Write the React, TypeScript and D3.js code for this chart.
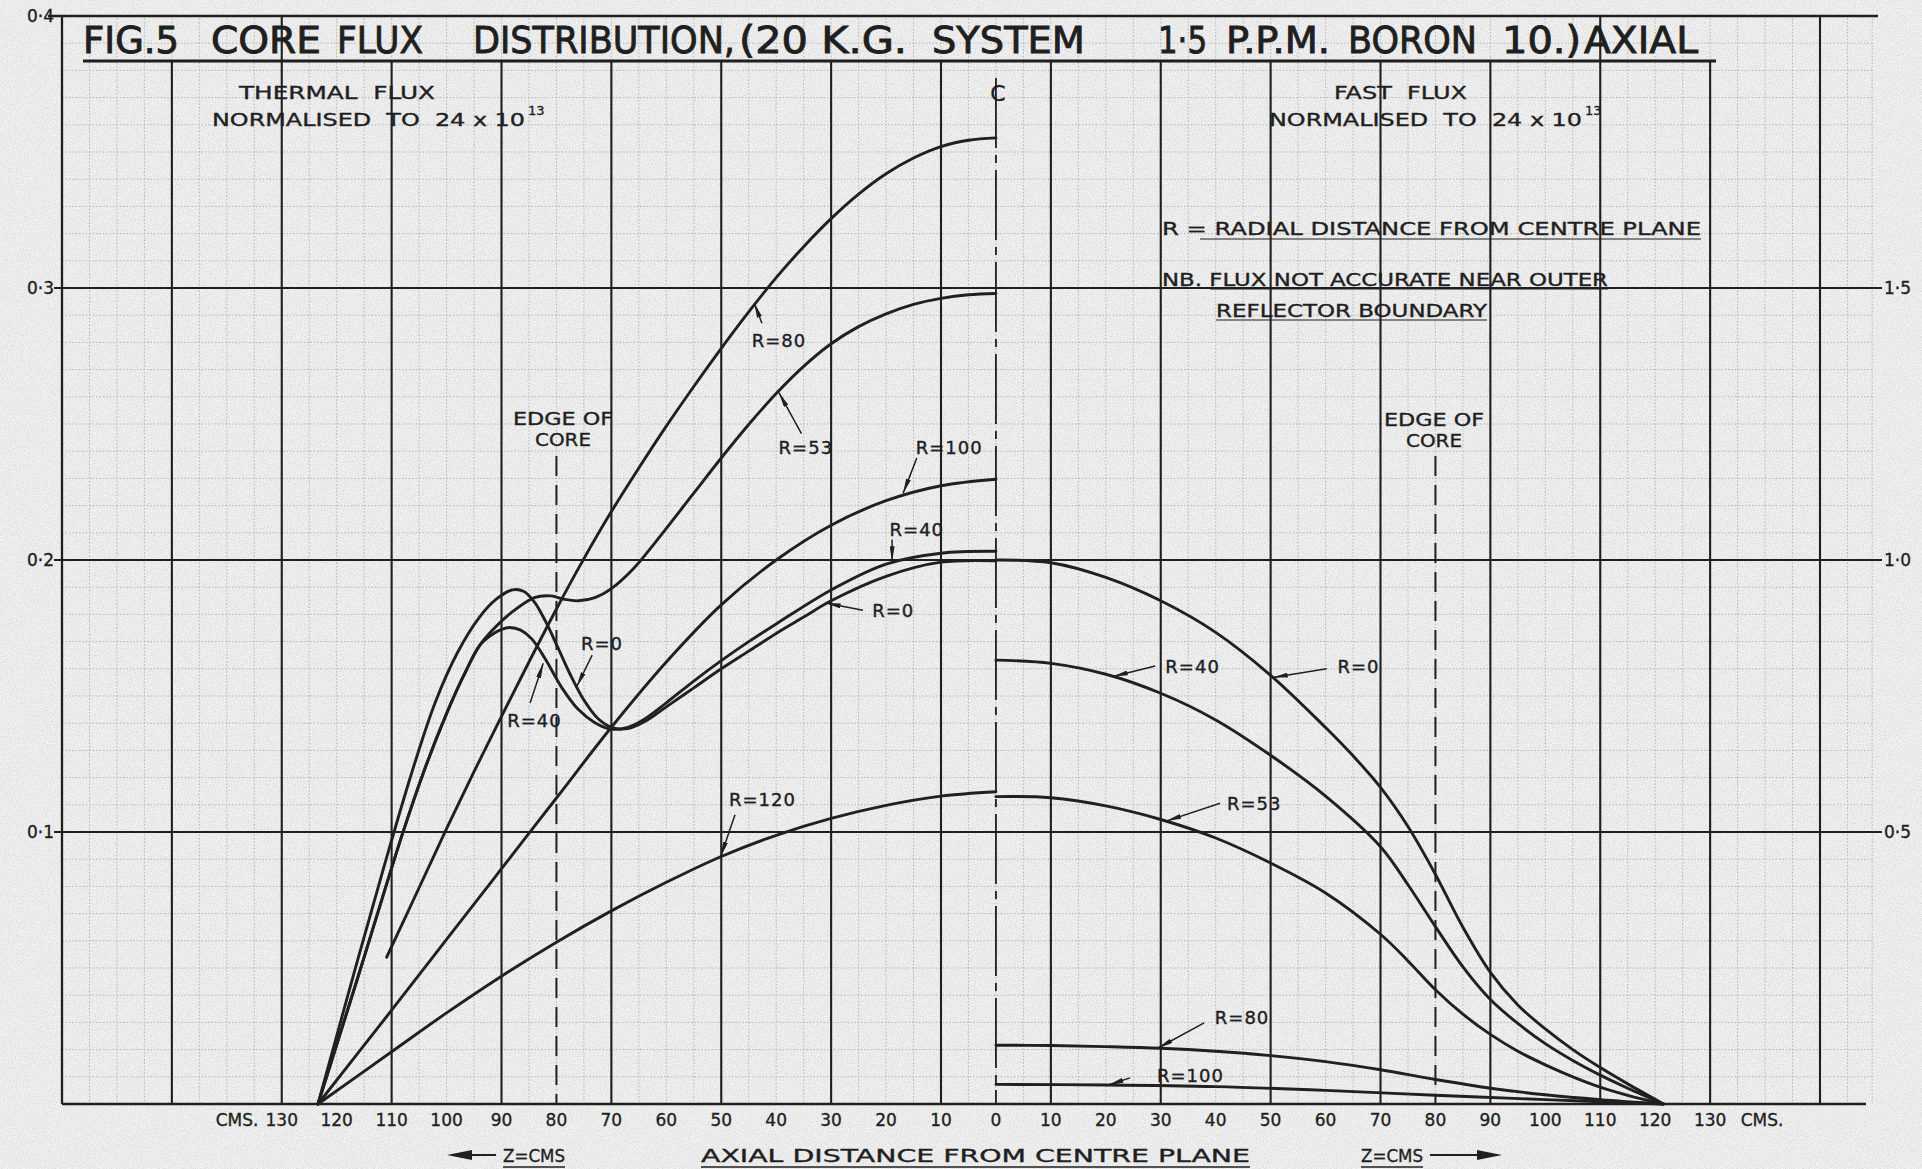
import React, { useEffect } from 'react';
import * as d3 from 'd3';

type Pt = [number, number];

// thermal flux, left axis; z in cm (negative = left of centre plane)
const thermalR0: Pt[] = [[-123.4, 0], [-117, 0.047], [-111, 0.09], [-106, 0.124], [-102, 0.148], [-98, 0.166], [-94, 0.179], [-91, 0.1855], [-88, 0.189], [-86, 0.1885], [-84, 0.1845], [-82, 0.1775], [-80, 0.169], [-77.5, 0.158], [-75, 0.1485], [-72.5, 0.1418], [-70, 0.1385], [-67, 0.138], [-64, 0.1405], [-60, 0.146], [-55, 0.153], [-50, 0.16], [-45, 0.1665], [-40, 0.173], [-35, 0.179], [-30, 0.185], [-20, 0.194], [-10, 0.1992], [0, 0.1997]];
const thermalR40: Pt[] = [[-123.4, 0], [-116, 0.0475], [-108, 0.0995], [-104, 0.123], [-100, 0.1435], [-97, 0.157], [-94, 0.1685], [-92, 0.1722], [-90, 0.1745], [-88.5, 0.1752], [-86.5, 0.1742], [-84.5, 0.171], [-82, 0.1635], [-79, 0.153], [-76, 0.145], [-73, 0.1402], [-70, 0.1378], [-67, 0.1385], [-64, 0.1415], [-60, 0.1475], [-55, 0.1555], [-50, 0.163], [-45, 0.17], [-40, 0.1765], [-30, 0.189], [-20, 0.1985], [-10, 0.2025], [0, 0.2032]];
const thermalR53: Pt[] = [[-123.4, 0], [-116, 0.0475], [-108, 0.0995], [-104, 0.123], [-100, 0.1435], [-97, 0.157], [-94, 0.1685], [-91.5, 0.1745], [-88, 0.181], [-84, 0.1862], [-81, 0.1868], [-78.5, 0.1855], [-76, 0.185], [-73, 0.1862], [-70, 0.1895], [-66, 0.1968], [-62, 0.2065], [-58, 0.2168], [-54, 0.2272], [-50, 0.2375], [-45, 0.2498], [-40, 0.2612], [-35, 0.2712], [-30, 0.2795], [-25, 0.2858], [-20, 0.2905], [-15, 0.294], [-10, 0.2962], [-5, 0.2975], [0, 0.298]];
const thermalR80: Pt[] = [[-110.9, 0.054], [-105, 0.0795], [-100, 0.1012], [-95, 0.1222], [-90, 0.1425], [-85, 0.1625], [-80, 0.182], [-75, 0.2005], [-70, 0.2178], [-65, 0.2338], [-60, 0.2492], [-55, 0.2638], [-50, 0.2778], [-45, 0.2912], [-40, 0.3038], [-35, 0.3152], [-30, 0.3255], [-25, 0.3345], [-20, 0.342], [-15, 0.3478], [-10, 0.352], [-5, 0.3543], [0, 0.3552]];
const thermalR100: Pt[] = [[-123.4, 0], [-110, 0.0345], [-100, 0.0605], [-90, 0.0865], [-80, 0.1125], [-70, 0.1385], [-60, 0.1625], [-50, 0.1835], [-40, 0.2], [-30, 0.2128], [-20, 0.2218], [-10, 0.2273], [0, 0.2297]];
const thermalR120: Pt[] = [[-123.4, 0], [-110, 0.0192], [-100, 0.0335], [-90, 0.047], [-80, 0.0595], [-70, 0.071], [-60, 0.0815], [-50, 0.091], [-40, 0.0988], [-30, 0.105], [-20, 0.1098], [-10, 0.1132], [0, 0.1148]];

// fast flux, right axis
const fastR0: Pt[] = [[0, 1.0], [10, 0.995], [20, 0.968], [30, 0.925], [40, 0.867], [50, 0.788], [60, 0.692], [65, 0.64], [70, 0.582], [75, 0.51], [80, 0.422], [85, 0.325], [90, 0.242], [95, 0.182], [100, 0.138], [105, 0.1], [110, 0.067], [115, 0.037], [121.5, 0]];
const fastR40: Pt[] = [[0, 0.816], [10, 0.81], [20, 0.79], [30, 0.755], [40, 0.706], [50, 0.641], [60, 0.566], [70, 0.473], [75, 0.403], [80, 0.326], [85, 0.252], [90, 0.192], [95, 0.148], [100, 0.111], [105, 0.08], [110, 0.053], [115, 0.029], [121.5, 0]];
const fastR53: Pt[] = [[0, 0.565], [10, 0.563], [20, 0.548], [30, 0.523], [40, 0.489], [50, 0.443], [60, 0.388], [70, 0.312], [75, 0.263], [80, 0.21], [85, 0.165], [90, 0.128], [95, 0.097], [100, 0.072], [105, 0.05], [110, 0.031], [115, 0.016], [121.5, 0]];
const fastR80: Pt[] = [[0, 0.108], [10, 0.1075], [20, 0.1055], [30, 0.1025], [40, 0.097], [50, 0.089], [60, 0.078], [70, 0.063], [80, 0.045], [90, 0.029], [100, 0.017], [110, 0.008], [121.5, 0]];
const fastR100: Pt[] = [[0, 0.036], [20, 0.035], [40, 0.032], [60, 0.025], [80, 0.016], [100, 0.008], [121.5, 0]];

const cmTicks = [130, 120, 110, 100, 90, 80, 70, 60, 50, 40, 30, 20, 10];
const leftTicks = [0.1, 0.2, 0.3, 0.4];
const leftTickLabels = ['0·1', '0·2', '0·3', '0·4'];
const rightTicks = [0.5, 1.0, 1.5];
const rightTickLabels = ['0·5', '1·0', '1·5'];

// curve labels: text, label centre, arrow start, arrow tip (z, value)
const thermalLabels: { t: string; at: Pt; from: Pt; to: Pt }[] = [
  { t: 'R=80', at: [-39.5, 0.281], from: [-42.6, 0.287], to: [-44, 0.2945] },
  { t: 'R=53', at: [-34.6, 0.2415], from: [-35.4, 0.2465], to: [-39.5, 0.2615] },
  { t: 'R=100', at: [-8.5, 0.2415], from: [-14.4, 0.2375], to: [-16.9, 0.2245] },
  { t: 'R=40', at: [-14.4, 0.2115], from: [-18.9, 0.2075], to: [-18.9, 0.1995] },
  { t: 'R=0', at: [-18.7, 0.1815], from: [-24.2, 0.1815], to: [-31, 0.1842] },
  { t: 'R=0', at: [-71.7, 0.1695], from: [-73.5, 0.165], to: [-76.3, 0.1535] },
  { t: 'R=40', at: [-84, 0.141], from: [-84.8, 0.1474], to: [-82.4, 0.162] },
  { t: 'R=120', at: [-42.5, 0.112], from: [-47.5, 0.1063], to: [-50.1, 0.091] },
];
const fastLabels: { t: string; at: Pt; from: Pt; to: Pt }[] = [
  { t: 'R=40', at: [35.8, 0.805], from: [29, 0.805], to: [21.3, 0.786] },
  { t: 'R=0', at: [66, 0.805], from: [60.2, 0.8], to: [50.4, 0.784] },
  { t: 'R=53', at: [47, 0.553], from: [40.8, 0.553], to: [31, 0.52] },
  { t: 'R=80', at: [44.8, 0.16], from: [37.9, 0.149], to: [29.5, 0.103] },
  { t: 'R=100', at: [35.4, 0.053], from: [24.4, 0.048], to: [20.5, 0.035] },
];

// title words and their horizontal extents
const titleWords: [string, number, number][] = [
  ['FIG.5', 83, 179], ['CORE', 211, 321], ['FLUX', 337, 423], ['DISTRIBUTION,', 473, 735],
  ['(20 K.G.', 739, 907], ['SYSTEM', 932, 1085], ['1·5', 1158, 1207], ['P.P.M.', 1226, 1330],
  ['BORON', 1348, 1477], ['10.)', 1502, 1581], ['AXIAL', 1584, 1698],
];

const INK = '#1f1f1f';
const FONT = '"DejaVu Sans", Verdana, sans-serif';

export default function App() {
  useEffect(() => {
    document.body.style.margin = '0';
    document.body.style.overflow = 'hidden';
  }, []);

  const W = 1922;
  const H = 1169;
  const x = d3.scaleLinear().domain([-170, 150]).range([62, 1820]);
  const yL = d3.scaleLinear().domain([0, 0.4]).range([1104, 16]);
  const yR = d3.scaleLinear().domain([0, 2]).range([1104, 16]);
  const top = 15;
  const base = yL(0);
  const paperEdge = 159.5;
  const titleLineY = 61;

  const curve = d3.curveCatmullRom.alpha(0.5);
  const lineL = d3.line<Pt>().x(d => x(d[0])).y(d => yL(d[1])).curve(curve);
  const lineR = d3.line<Pt>().x(d => x(d[0])).y(d => yR(d[1])).curve(curve);

  const minorV = d3.range(-170, 160, 5).concat([paperEdge]);
  const minorH = d3.range(1, 40).map(i => i / 100).filter((_, i) => (i + 1) % 10 !== 0);
  const majorV = d3.range(-150, 151, 20);
  const throughTitle = [-130, 110];

  const thermal = [thermalR0, thermalR40, thermalR53, thermalR80, thermalR100, thermalR120];
  const fast = [fastR0, fastR40, fastR53, fastR80, fastR100];

  const label = (l: { t: string; at: Pt; from: Pt; to: Pt }, y: d3.ScaleLinear<number, number>, k: string) => (
    <g key={k}>
      <line x1={x(l.from[0])} y1={y(l.from[1])} x2={x(l.to[0])} y2={y(l.to[1])}
        stroke={INK} strokeWidth={1.5} markerEnd="url(#arrow)" />
      <text x={x(l.at[0])} y={y(l.at[1]) + 7} textAnchor="middle" fontSize={18}
        letterSpacing={1} fill={INK} stroke={INK} strokeWidth={0.4}>{l.t}</text>
    </g>
  );

  return (
    <svg width={W} height={H} style={{ position: 'absolute', left: 0, top: 0, display: 'block' }}
      fontFamily={FONT}>
      <defs>
        <filter id="grain" x="0" y="0" width="100%" height="100%">
          <feTurbulence type="fractalNoise" baseFrequency="0.85" numOctaves="2" seed="4" />
          <feColorMatrix type="matrix" values="0 0 0 0 0.25  0 0 0 0 0.25  0 0 0 0 0.25  0.9 0 0 0 -0.3" />
        </filter>
        <marker id="arrow" viewBox="0 0 15 5" refX="15" refY="2.5" markerWidth="15" markerHeight="5"
          markerUnits="userSpaceOnUse" orient="auto">
          <path d="M0,0 L15,2.5 L0,5 Z" fill={INK} />
        </marker>
      </defs>

      <rect width={W} height={H} fill="#f3f3f3" />
      <rect width={W} height={H} filter="url(#grain)" opacity={0.5} />

      {/* graph paper */}
      <g stroke="#858585" strokeWidth={0.9} strokeDasharray="1.6 1.8" opacity={0.55}>
        {minorV.map(z => (
          <line key={'mv' + z} x1={x(z)} x2={x(z)} y1={top} y2={base} />
        ))}
        {minorH.map(v => (
          <line key={'mh' + v} x1={x(-170)} x2={x(paperEdge)} y1={yL(v)} y2={yL(v)} />
        ))}
      </g>

      {/* drafted grid */}
      <g stroke={INK} strokeWidth={2.1}>
        {majorV.map(z => {
          const xx = x(z);
          const inTitle = xx > 80 && xx < 1720 && !throughTitle.includes(z);
          return <line key={'v' + z} x1={xx} x2={xx} y1={inTitle ? titleLineY : top} y2={base} />;
        })}
        {[0.1, 0.2, 0.3].map(v => (
          <line key={'h' + v} x1={54} x2={1882} y1={yL(v)} y2={yL(v)} />
        ))}
        <line x1={x(-170)} x2={x(-170)} y1={top} y2={base} strokeWidth={2.3} />
        <line x1={48} x2={1878} y1={yL(0.4)} y2={yL(0.4)} strokeWidth={2.3} />
        <line x1={x(-170)} x2={1866} y1={base} y2={base} strokeWidth={2.7} />
      </g>

      {/* centre line and edges of core */}
      <line x1={x(0)} x2={x(0)} y1={78} y2={base} stroke={INK} strokeWidth={1.8}
        strokeDasharray="70 7 8 7" />
      <line x1={x(-80)} x2={x(-80)} y1={456} y2={base} stroke={INK} strokeWidth={2}
        strokeDasharray="20 9" />
      <line x1={x(80)} x2={x(80)} y1={456} y2={base} stroke={INK} strokeWidth={2}
        strokeDasharray="20 9" />

      {/* curves */}
      <g fill="none" stroke="#202020" strokeWidth={2.9} strokeLinecap="round">
        {thermal.map((s, i) => <path key={'t' + i} d={lineL(s) || ''} />)}
        {fast.map((s, i) => <path key={'f' + i} d={lineR(s) || ''} />)}
      </g>

      {thermalLabels.map((l, i) => label(l, yL, 'tl' + i))}
      {fastLabels.map((l, i) => label(l, yR, 'fl' + i))}

      {/* title */}
      <g fill={INK} stroke={INK} strokeWidth={0.9} fontSize={37}>
        {titleWords.map(([w, a, b]) => (
          <text key={w} x={a} y={53} textLength={b - a} lengthAdjust="spacingAndGlyphs">{w}</text>
        ))}
      </g>
      <line x1={83} x2={1716} y1={titleLineY} y2={titleLineY} stroke={INK} strokeWidth={3} />

      {/* annotations */}
      <g fill={INK} stroke={INK} strokeWidth={0.35} fontSize={17}>
        <text x={239} y={99} textLength={196} lengthAdjust="spacingAndGlyphs" style={{ whiteSpace: 'pre' }}>THERMAL  FLUX</text>
        <text x={212} y={126} textLength={313} lengthAdjust="spacingAndGlyphs" style={{ whiteSpace: 'pre' }}>NORMALISED  TO  24 x 10</text>
        <text x={528} y={115} fontSize={13}>13</text>
        <text x={1334} y={99} textLength={133} lengthAdjust="spacingAndGlyphs" style={{ whiteSpace: 'pre' }}>FAST  FLUX</text>
        <text x={1269} y={126} textLength={313} lengthAdjust="spacingAndGlyphs" style={{ whiteSpace: 'pre' }}>NORMALISED  TO  24 x 10</text>
        <text x={1585} y={115} fontSize={13}>13</text>
        <text x={x(0) + 2} y={101} textAnchor="middle" fontSize={22}>C</text>

        <text x={1162} y={235} textLength={539} lengthAdjust="spacingAndGlyphs">R = RADIAL  DISTANCE  FROM  CENTRE  PLANE</text>
        <text x={1162} y={286} textLength={446} lengthAdjust="spacingAndGlyphs">NB.  FLUX  NOT  ACCURATE  NEAR  OUTER</text>
        <text x={1216} y={317} textLength={271} lengthAdjust="spacingAndGlyphs">REFLECTOR  BOUNDARY</text>

        <text x={513} y={425} textLength={100} lengthAdjust="spacingAndGlyphs">EDGE OF</text>
        <text x={535} y={446} textLength={56} lengthAdjust="spacingAndGlyphs">CORE</text>
        <text x={1384} y={426} textLength={100} lengthAdjust="spacingAndGlyphs">EDGE OF</text>
        <text x={1406} y={447} textLength={56} lengthAdjust="spacingAndGlyphs">CORE</text>
      </g>
      <g stroke={INK} strokeWidth={1.2}>
        <line x1={1200} x2={1701} y1={239} y2={239} />
        <line x1={1210} x2={1608} y1={289} y2={289} />
        <line x1={1216} x2={1487} y1={320} y2={320} />
      </g>

      {/* axes labels */}
      <g fill={INK} stroke={INK} strokeWidth={0.35} fontSize={17}>
        {leftTicks.map((v, i) => (
          <text key={'lt' + v} x={54} y={yL(v) + 6} textAnchor="end">{leftTickLabels[i]}</text>
        ))}
        {rightTicks.map((v, i) => (
          <text key={'rt' + v} x={1884} y={yR(v) + 6}>{rightTickLabels[i]}</text>
        ))}
      </g>
      <g fill={INK} stroke={INK} strokeWidth={0.35} fontSize={17} textAnchor="middle">
        {cmTicks.map(c => <text key={'bl' + c} x={x(-c)} y={1126}>{c}</text>)}
        <text x={x(0)} y={1126}>0</text>
        {cmTicks.map(c => <text key={'br' + c} x={x(c)} y={1126}>{c}</text>)}
        <text x={237} y={1126}>CMS.</text>
        <text x={1762} y={1126}>CMS.</text>
      </g>

      <g fill={INK} stroke={INK} strokeWidth={0.35} fontSize={17}>
        <text x={701} y={1162} textLength={549} lengthAdjust="spacingAndGlyphs">AXIAL  DISTANCE  FROM  CENTRE  PLANE</text>
        <text x={503} y={1162} textLength={62} lengthAdjust="spacingAndGlyphs">Z=CMS</text>
        <text x={1361} y={1162} textLength={62} lengthAdjust="spacingAndGlyphs">Z=CMS</text>
      </g>
      <g stroke={INK} strokeWidth={1.3}>
        <line x1={701} x2={1250} y1={1167} y2={1167} />
        <line x1={503} x2={565} y1={1167} y2={1167} />
        <line x1={1361} x2={1423} y1={1167} y2={1167} />
        <line x1={468} x2={496} y1={1155} y2={1155} strokeWidth={2} />
        <line x1={1430} x2={1482} y1={1155} y2={1155} strokeWidth={2} />
      </g>
      <path d="M447,1155 L472,1150 L472,1160 Z" fill={INK} />
      <path d="M1502,1155 L1477,1150 L1477,1160 Z" fill={INK} />
    </svg>
  );
}
